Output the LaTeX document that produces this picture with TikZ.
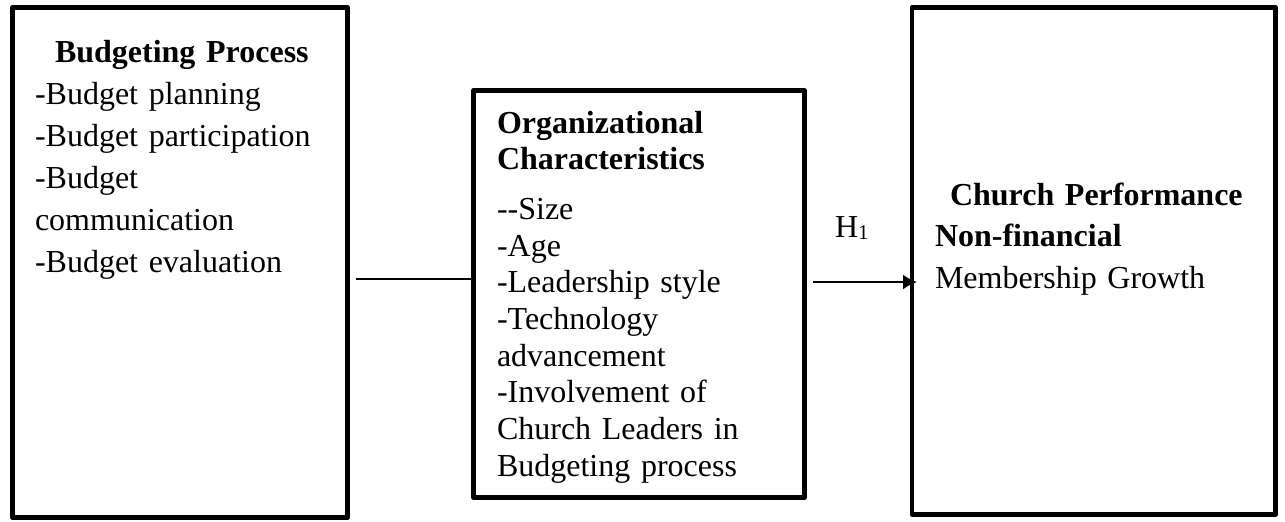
\documentclass[tikz,border=0pt]{standalone}
\usepackage{fontspec}
\setmainfont{Liberation Serif}
\usetikzlibrary{arrows.meta,positioning}

\begin{document}
\begin{tikzpicture}[x=1pt, y=-1pt, node distance=1cm and 1cm,
    every node/.style={inner sep=0pt, outer sep=0pt},
    box/.style={rectangle, draw, line width=4.5pt, line join=round},
    txt/.style={anchor=base west, align=left, text width=330pt, font=\fontsize{32}{#1}\selectfont},
    link/.style={line width=2pt}]
  \useasboundingbox (0,0) rectangle (1285,522);

  \node[box, minimum width=335pt, minimum height=510pt] (bp) at (180,262.5) {};
  \node[box, minimum width=331pt, minimum height=407pt] (oc) [right=126pt of bp, yshift=-31.5pt] {};
  \node[box, minimum width=363.5pt, minimum height=507pt] (cp) [right=107.5pt of oc, yshift=33pt] {};

  \node[txt=42] (bp_text) at ([shift={(22.5,54.5)}]bp.north west)
    {\hspace*{20pt}\textbf{Budgeting Process}\\-Budget planning\\-Budget participation\\-Budget\\communication\\-Budget evaluation};
  \node[txt=36.7] (oc_text) at ([shift={(23.5,42.5)}]oc.north west)
    {\textbf{Organizational}\\\textbf{Characteristics}\\[13pt]\mbox{-}\mbox{-}Size\\-Age\\-Leadership style\\-Technology\\advancement\\-Involvement of\\Church Leaders in\\Budgeting process};
  \node[txt=41.5] (cp_text) at ([shift={(23,197.5)}]cp.north west)
    {\hspace*{15pt}\textbf{Church Performance}\\\textbf{Non-financial}\\Membership Growth};

  \draw[link, shorten <=8.5pt] ([yshift=-16.5pt]bp.east) -- ([yshift=-16.5pt]bp.east -| oc.west);
  \draw[link, -{Latex[length=14pt, width=15pt]}, shorten <=8.5pt, shorten >=-5pt]
    ([yshift=-21pt]cp.west -| oc.east) -- node[pos=0.44, anchor=base, yshift=45pt, font=\fontsize{32}{42}\selectfont] (h1) {H{\fontsize{21}{21}\selectfont\raisebox{-2pt}{1}}} ([yshift=-21pt]cp.west);
\end{tikzpicture}
\end{document}
